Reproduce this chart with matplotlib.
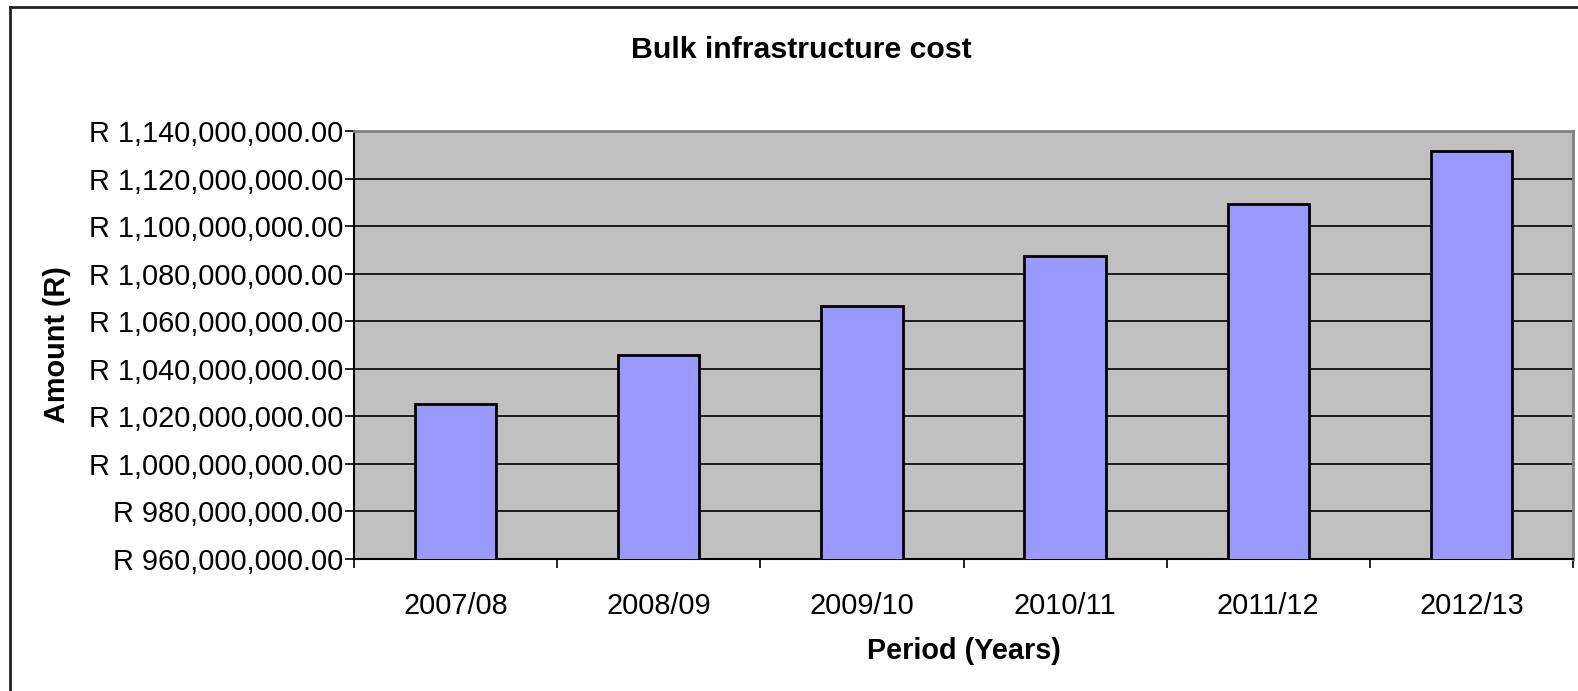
import matplotlib
matplotlib.use("Agg")
from matplotlib import pyplot as plt
from matplotlib.lines import Line2D
import numpy as np

# data
periods = ["2007/08", "2008/09", "2009/10", "2010/11", "2011/12", "2012/13"]
amounts = [1025.0e6, 1045.6e6, 1066.4e6, 1087.6e6, 1109.5e6, 1131.7e6]
y_ticks = [960e6 + 20e6 * i for i in range(10)]

plt.rcParams['font.family'] = ['Liberation Sans', 'DejaVu Sans']
fs = 20.8

W, H = 1578, 691
fig = plt.figure(figsize=(W / 100, H / 100), dpi=100)
ax = fig.add_axes([354 / W, 1 - 559 / H, (1573 - 354) / W, (559 - 131) / H])
ax.set_facecolor('#C0C0C0')

x = np.arange(len(periods))
ax.bar(x, amounts, width=0.4, color='#9999FF', edgecolor='black', linewidth=2, zorder=3)

ax.set_ylim(960e6, 1140e6)
ax.set_xlim(-0.5, len(periods) - 0.5)
ax.set_yticks(y_ticks)
ax.set_yticklabels(["R {:,.2f}".format(v) for v in y_ticks], fontsize=fs)
ax.yaxis.grid(True, color='black', linewidth=1.2, zorder=1)
ax.set_axisbelow(True)

ax.set_xticks(x)
ax.set_xticklabels(periods, fontsize=fs)
ax.set_xticks(np.arange(-0.5, len(periods)), minor=True)
ax.tick_params(axis='x', which='major', length=0, pad=24)
ax.tick_params(axis='x', which='minor', length=6.5, width=1.2, color='black')
ax.tick_params(axis='y', length=6.5, width=1.2, pad=1.5, color='black')

for s in ['top', 'right']:
    ax.spines[s].set_color('#808080')
    ax.spines[s].set_linewidth(2)
for s in ['left', 'bottom']:
    ax.spines[s].set_color('black')
    ax.spines[s].set_linewidth(1.5)

fig.text(801 / W, 1 - 58 / H, "Bulk infrastructure cost", ha='center', va='baseline',
         fontsize=21.8, fontweight='bold')
fig.text((354 + 1573) / 2 / W, 1 - 659 / H, "Period (Years)", ha='center', va='baseline',
         fontsize=fs, fontweight='bold')
fig.text(57 / W, 1 - 345 / H, "Amount (R)", ha='center', va='center', rotation=90,
         fontsize=fs, fontweight='bold')

# outer chart border (only left and top visible)
fig.add_artist(Line2D([10 / W, 10 / W], [0, 1 - 7 / H], transform=fig.transFigure,
                      color='#222222', linewidth=2))
fig.add_artist(Line2D([10 / W, 1], [1 - 7 / H, 1 - 7 / H], transform=fig.transFigure,
                      color='#222222', linewidth=2))

fig.savefig("out.png", dpi=100)
